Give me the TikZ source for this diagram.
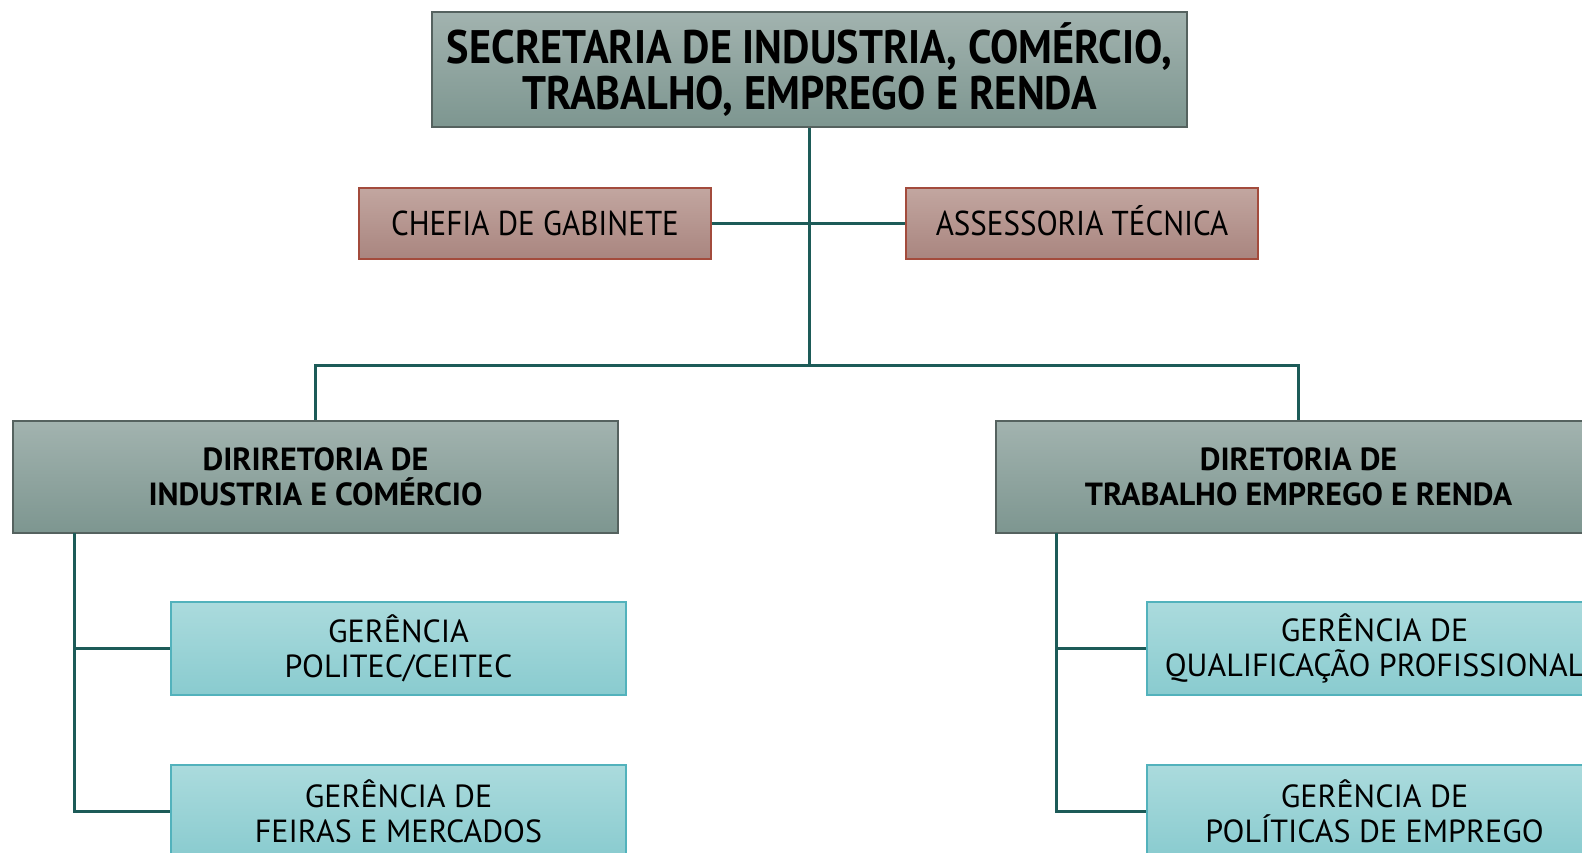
\documentclass[tikz,border=0pt]{standalone}
\usepackage{fontspec}
\setmainfont{PT Sans}
\newfontfamily\narrowfont[FakeStretch=0.9]{PT Sans}
\definecolor{headtop}{HTML}{A2B3AF}
\definecolor{headbot}{HTML}{7D9690}
\definecolor{headline}{HTML}{55625F}
\definecolor{stafftop}{HTML}{C2A6A0}
\definecolor{staffbot}{HTML}{A9857F}
\definecolor{staffline}{HTML}{A34B3C}
\definecolor{mgrtop}{HTML}{ABDBDD}
\definecolor{mgrbot}{HTML}{89CBCF}
\definecolor{mgrline}{HTML}{52B2BC}
\definecolor{wire}{HTML}{1D5B58}
\begin{document}
\begin{tikzpicture}[x=1pt, y=-1pt,
				    head/.style={draw=headline, line width=1.2pt, top color=headtop,
				    			 bottom color=headbot, align=center, text=black,
				    			 inner sep=0pt},
				    staff/.style={draw=staffline, line width=1.2pt, top color=stafftop,
				    			  bottom color=staffbot, align=center, text=black,
				    			  minimum width=352, minimum height=71, inner sep=0pt,
				    			  text height=24, text depth=0,
				    			  font=\narrowfont\fontsize{34.5}{38}\selectfont},
				    mgr/.style={draw=mgrline, line width=1.2pt, top color=mgrtop,
				    			bottom color=mgrbot, align=center, text=black,
				    			minimum width=455, minimum height=93, inner sep=0pt,
				    			font=\fontsize{32}{35.5}\selectfont},
				    wire/.style={draw=wire, line width=3pt}]
	\useasboundingbox (0,0) rectangle (1582,853);
	\begin{scope}
	\clip (0,0) rectangle (1582,853);
	\node[head, minimum width=755, minimum height=115,
		  font=\narrowfont\bfseries\fontsize{47}{45.5}\selectfont]
		  (sec) at (809.5, 69.5) {SECRETARIA DE INDUSTRIA, COMÉRCIO,\\TRABALHO, EMPREGO E RENDA};
	\node[staff] (chefia) at (535, 223.5) {CHEFIA DE GABINETE};
	\node[staff] (assess) at (1082, 223.5) {ASSESSORIA TÉCNICA};
	\node[head, minimum width=605, minimum height=112,
		  font=\bfseries\fontsize{32}{35.5}\selectfont]
		  (dirind) at (315.5, 477) {DIRIRETORIA DE\\INDUSTRIA E COMÉRCIO};
	\node[head, minimum width=605, minimum height=112,
		  font=\bfseries\fontsize{32}{35.5}\selectfont]
		  (dirtrab) at (1298.5, 477) {DIRETORIA DE\\TRABALHO EMPREGO E RENDA};
	\node[mgr] (politec) at (398.5, 648.5) {GERÊNCIA\\POLITEC/CEITEC};
	\node[mgr] (feiras)  at (398.5, 811.5) {GERÊNCIA DE\\FEIRAS E MERCADOS};
	\node[mgr] (qualif)  at (1374.5, 648.5) {GERÊNCIA DE\\QUALIFICAÇÃO PROFISSIONAL};
	\node[mgr] (polit)   at (1374.5, 811.5) {GERÊNCIA DE\\POLÍTICAS DE EMPREGO};
	\coordinate (hub)   at (809.5, 365);
	\coordinate (busind)  at (74, 533);
	\coordinate (bustrab) at (1056, 533);
	\path[wire] (sec)    --  (hub);
	\path[wire] (chefia) --  (assess);
	\path[wire] (hub)    -|  (dirind);
	\path[wire] (hub)    -|  (dirtrab);
	\path[wire] (busind)  |- (politec);
	\path[wire] (busind)  |- (feiras);
	\path[wire] (bustrab) |- (qualif);
	\path[wire] (bustrab) |- (polit);
	\end{scope}
\end{tikzpicture}
\end{document}
